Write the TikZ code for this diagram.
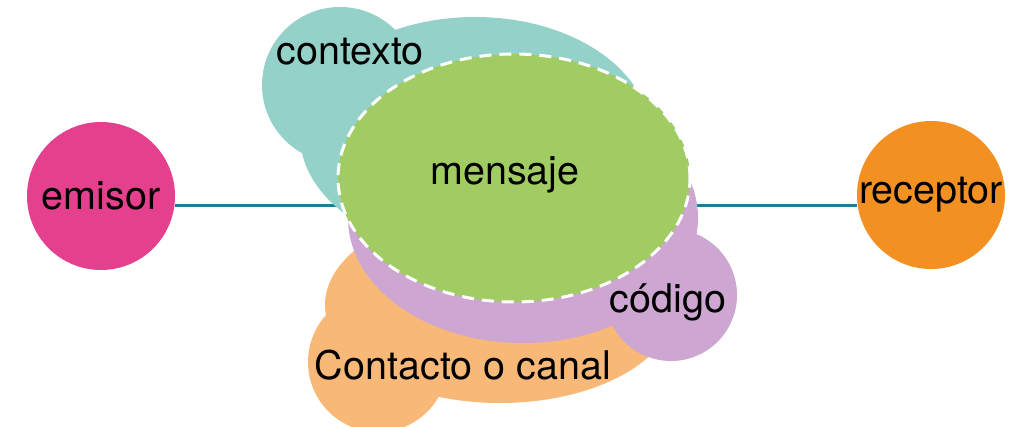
\documentclass[tikz,border=0pt]{standalone}
\usepackage{fontspec}
\setmainfont{TeX Gyre Heros}
\usetikzlibrary{shapes.geometric,backgrounds}
\definecolor{tealc}{HTML}{94D2C9}
\definecolor{greenc}{HTML}{A0CC63}
\definecolor{purplec}{HTML}{CDA6D1}
\definecolor{orangel}{HTML}{F8B878}
\definecolor{pinkc}{HTML}{E4408E}
\definecolor{orangec}{HTML}{F39022}
\definecolor{linec}{HTML}{207C9C}
\begin{document}
\begin{tikzpicture}[x=1pt,y=-1pt,
  lbl/.style={font=\fontsize{39.5}{42}\selectfont, text=black, inner sep=0pt},
  party/.style={circle, minimum size=148pt, inner sep=0pt, font=\fontsize{39.5}{42}\selectfont, text=black},
  link/.style={draw=linec, line width=3pt}]
\useasboundingbox (0,0) rectangle (1024,427);
% contacto o canal
\fill[orangel] (500,305) ellipse [x radius=175, y radius=98];
\fill[orangel] (378,362) circle [radius=70];
% codigo
\fill[purplec] (523,218) ellipse [x radius=175, y radius=125];
\fill[purplec] (671,295) circle [radius=66];
% contexto
\fill[tealc] (340,85) circle [radius=78];
\fill[tealc] (475,135) ellipse [x radius=175, y radius=118];
% mensaje
\node[ellipse, fill=greenc, draw=white, line width=3pt, dash pattern=on 12pt off 8pt,
      minimum width=352pt, minimum height=248pt, inner sep=0pt] (mensaje) at (514,178) {};
\node[lbl] (mensajetxt) at (505,175) {mensaje};
\node[lbl] (contexto) at (350,52) {contexto};
\node[lbl] (codigo) at (668,302) {código};
\node[lbl] (contacto) at (463,365) {Contacto o canal};
% parties
\node[party, fill=pinkc] (emisor) at (101,196) {emisor};
\node[party, fill=orangec] (receptor) at (931,195) {receptor};
\begin{scope}[on background layer]
  \draw[link] ([yshift=-10pt]emisor.east) -- ([yshift=-11pt]receptor.west);
\end{scope}
\end{tikzpicture}
\end{document}
